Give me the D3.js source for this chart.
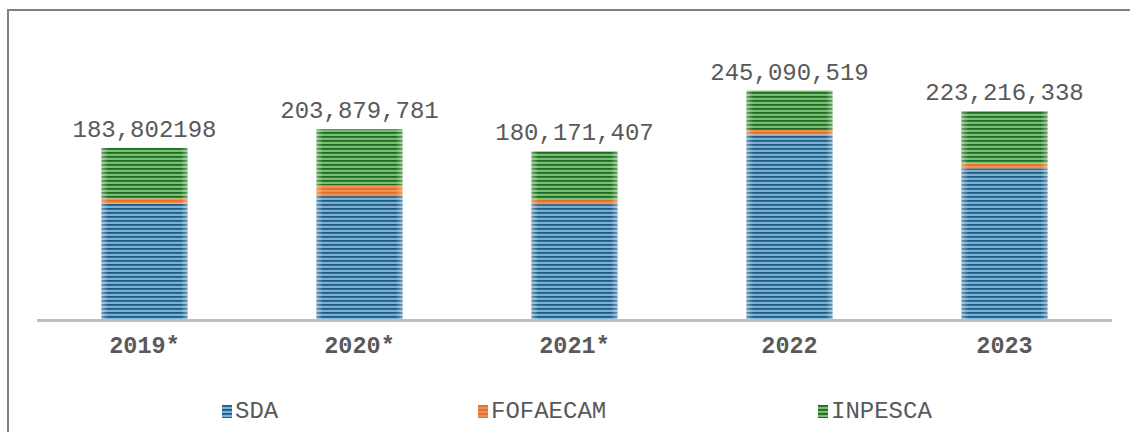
<!DOCTYPE html>
<html>
<head>
<meta charset="utf-8">
<script src="https://cdn.jsdelivr.net/npm/d3@7"></script>
<style>
  body { margin: 0; background: #fff; }
  svg { display: block; }
</style>
</head>
<body>
<div id="chart"></div>
<script>
// data (millions)
const years = ["2019*", "2020*", "2021*", "2022", "2023"];
const sda = [124.6, 132.4, 123.8, 198.4, 162.0];
const fofaecam = [5.4, 11.7, 5.4, 4.6, 5.3];
const inpesca = [53.8, 59.8, 51.0, 42.1, 55.9];
const totalLabels = ["183,802198", "203,879,781", "180,171,407", "245,090,519", "223,216,338"];
const seriesNames = ["SDA", "FOFAECAM", "INPESCA"];

const W = 1130, H = 432;
const font = "'Liberation Mono', 'Courier New', monospace";
const svg = d3.select("#chart").append("svg")
  .attr("width", W).attr("height", H);

const defs = svg.append("defs");
const palettes = {
  SDA: { base: "#3f86b3", dark: "#1b5a84", light: "#b9dbf0" },
  FOFAECAM: { base: "#ed7d31", dark: "#e0702a", light: "#f4a26b" },
  INPESCA: { base: "#3f9a40", dark: "#1b6a1f", light: "#b5e0a8" }
};
seriesNames.forEach(name => {
  const p = palettes[name];
  const pat = defs.append("pattern")
    .attr("id", "pat-" + name)
    .attr("patternUnits", "userSpaceOnUse")
    .attr("width", 8).attr("height", 4);
  pat.append("rect").attr("width", 8).attr("height", 4).attr("fill", p.base);
  pat.append("rect").attr("y", 0).attr("width", 8).attr("height", 1.5).attr("fill", p.dark);
  pat.append("rect").attr("y", 2.5).attr("width", 8).attr("height", 1).attr("fill", p.light);
});
// soft edge highlight across bar width
const grad = defs.append("linearGradient").attr("id", "edge").attr("x1", 0).attr("x2", 1);
grad.append("stop").attr("offset", "0").attr("stop-color", "#fff").attr("stop-opacity", 0.35);
grad.append("stop").attr("offset", "0.08").attr("stop-color", "#fff").attr("stop-opacity", 0);
grad.append("stop").attr("offset", "0.92").attr("stop-color", "#fff").attr("stop-opacity", 0);
grad.append("stop").attr("offset", "1").attr("stop-color", "#fff").attr("stop-opacity", 0.35);

// frame
svg.append("path")
  .attr("d", "M8,432 L8,10 L1130,10")
  .attr("fill", "none").attr("stroke", "#808080").attr("stroke-width", 2);

const x = d3.scaleBand()
  .domain(years)
  .range([37, 1112])
  .paddingInner(0.6)
  .paddingOuter(0.3);

const y = d3.scaleLinear()
  .domain([0, 300])
  .range([320, 39.2]);

const rows = years.map((yr, i) => ({ year: yr, SDA: sda[i], FOFAECAM: fofaecam[i], INPESCA: inpesca[i] }));
const stack = d3.stack().keys(seriesNames)(rows);

const g = svg.append("g");
g.selectAll("g.series")
  .data(stack)
  .enter().append("g")
  .attr("class", "series")
  .attr("fill", d => "url(#pat-" + d.key + ")")
  .selectAll("rect")
  .data(d => d)
  .enter().append("rect")
  .attr("x", d => x(d.data.year))
  .attr("y", d => y(d[1]))
  .attr("width", x.bandwidth())
  .attr("height", d => y(d[0]) - y(d[1]));

// edge overlay
g.selectAll("rect.edge")
  .data(rows)
  .enter().append("rect")
  .attr("class", "edge")
  .attr("x", d => x(d.year))
  .attr("y", d => y(d.SDA + d.FOFAECAM + d.INPESCA))
  .attr("width", x.bandwidth())
  .attr("height", d => y(0) - y(d.SDA + d.FOFAECAM + d.INPESCA))
  .attr("fill", "url(#edge)");

// baseline
svg.append("line")
  .attr("x1", 37).attr("x2", 1112)
  .attr("y1", 320.5).attr("y2", 320.5)
  .attr("stroke", "#bfbfbf").attr("stroke-width", 3);

// total labels
svg.selectAll("text.total")
  .data(rows)
  .enter().append("text")
  .attr("class", "total")
  .attr("x", d => x(d.year) + x.bandwidth() / 2)
  .attr("y", d => y(d.SDA + d.FOFAECAM + d.INPESCA) - 11)
  .attr("text-anchor", "middle")
  .attr("font-family", font)
  .attr("font-size", 24)
  .attr("fill", "#595959")
  .text((d, i) => totalLabels[i]);

// x axis labels
const xAxis = svg.append("g")
  .attr("transform", "translate(0,322)")
  .call(d3.axisBottom(x).tickSize(0).tickPadding(14));
xAxis.select(".domain").remove();
xAxis.selectAll("text")
  .attr("font-family", font)
  .attr("font-weight", "bold")
  .attr("font-size", 23.5)
  .attr("fill", "#595959");

// legend
const legendX = [222, 478, 818];
const legend = svg.selectAll("g.legend")
  .data(seriesNames)
  .enter().append("g")
  .attr("class", "legend")
  .attr("transform", (d, i) => "translate(" + legendX[i] + ",405)");
legend.append("rect")
  .attr("width", 10).attr("height", 13)
  .attr("fill", d => "url(#pat-" + d + ")");
legend.append("text")
  .attr("x", 13).attr("y", 13)
  .attr("font-family", font)
  .attr("font-size", 24)
  .attr("fill", "#595959")
  .text(d => d);
</script>
</body>
</html>
